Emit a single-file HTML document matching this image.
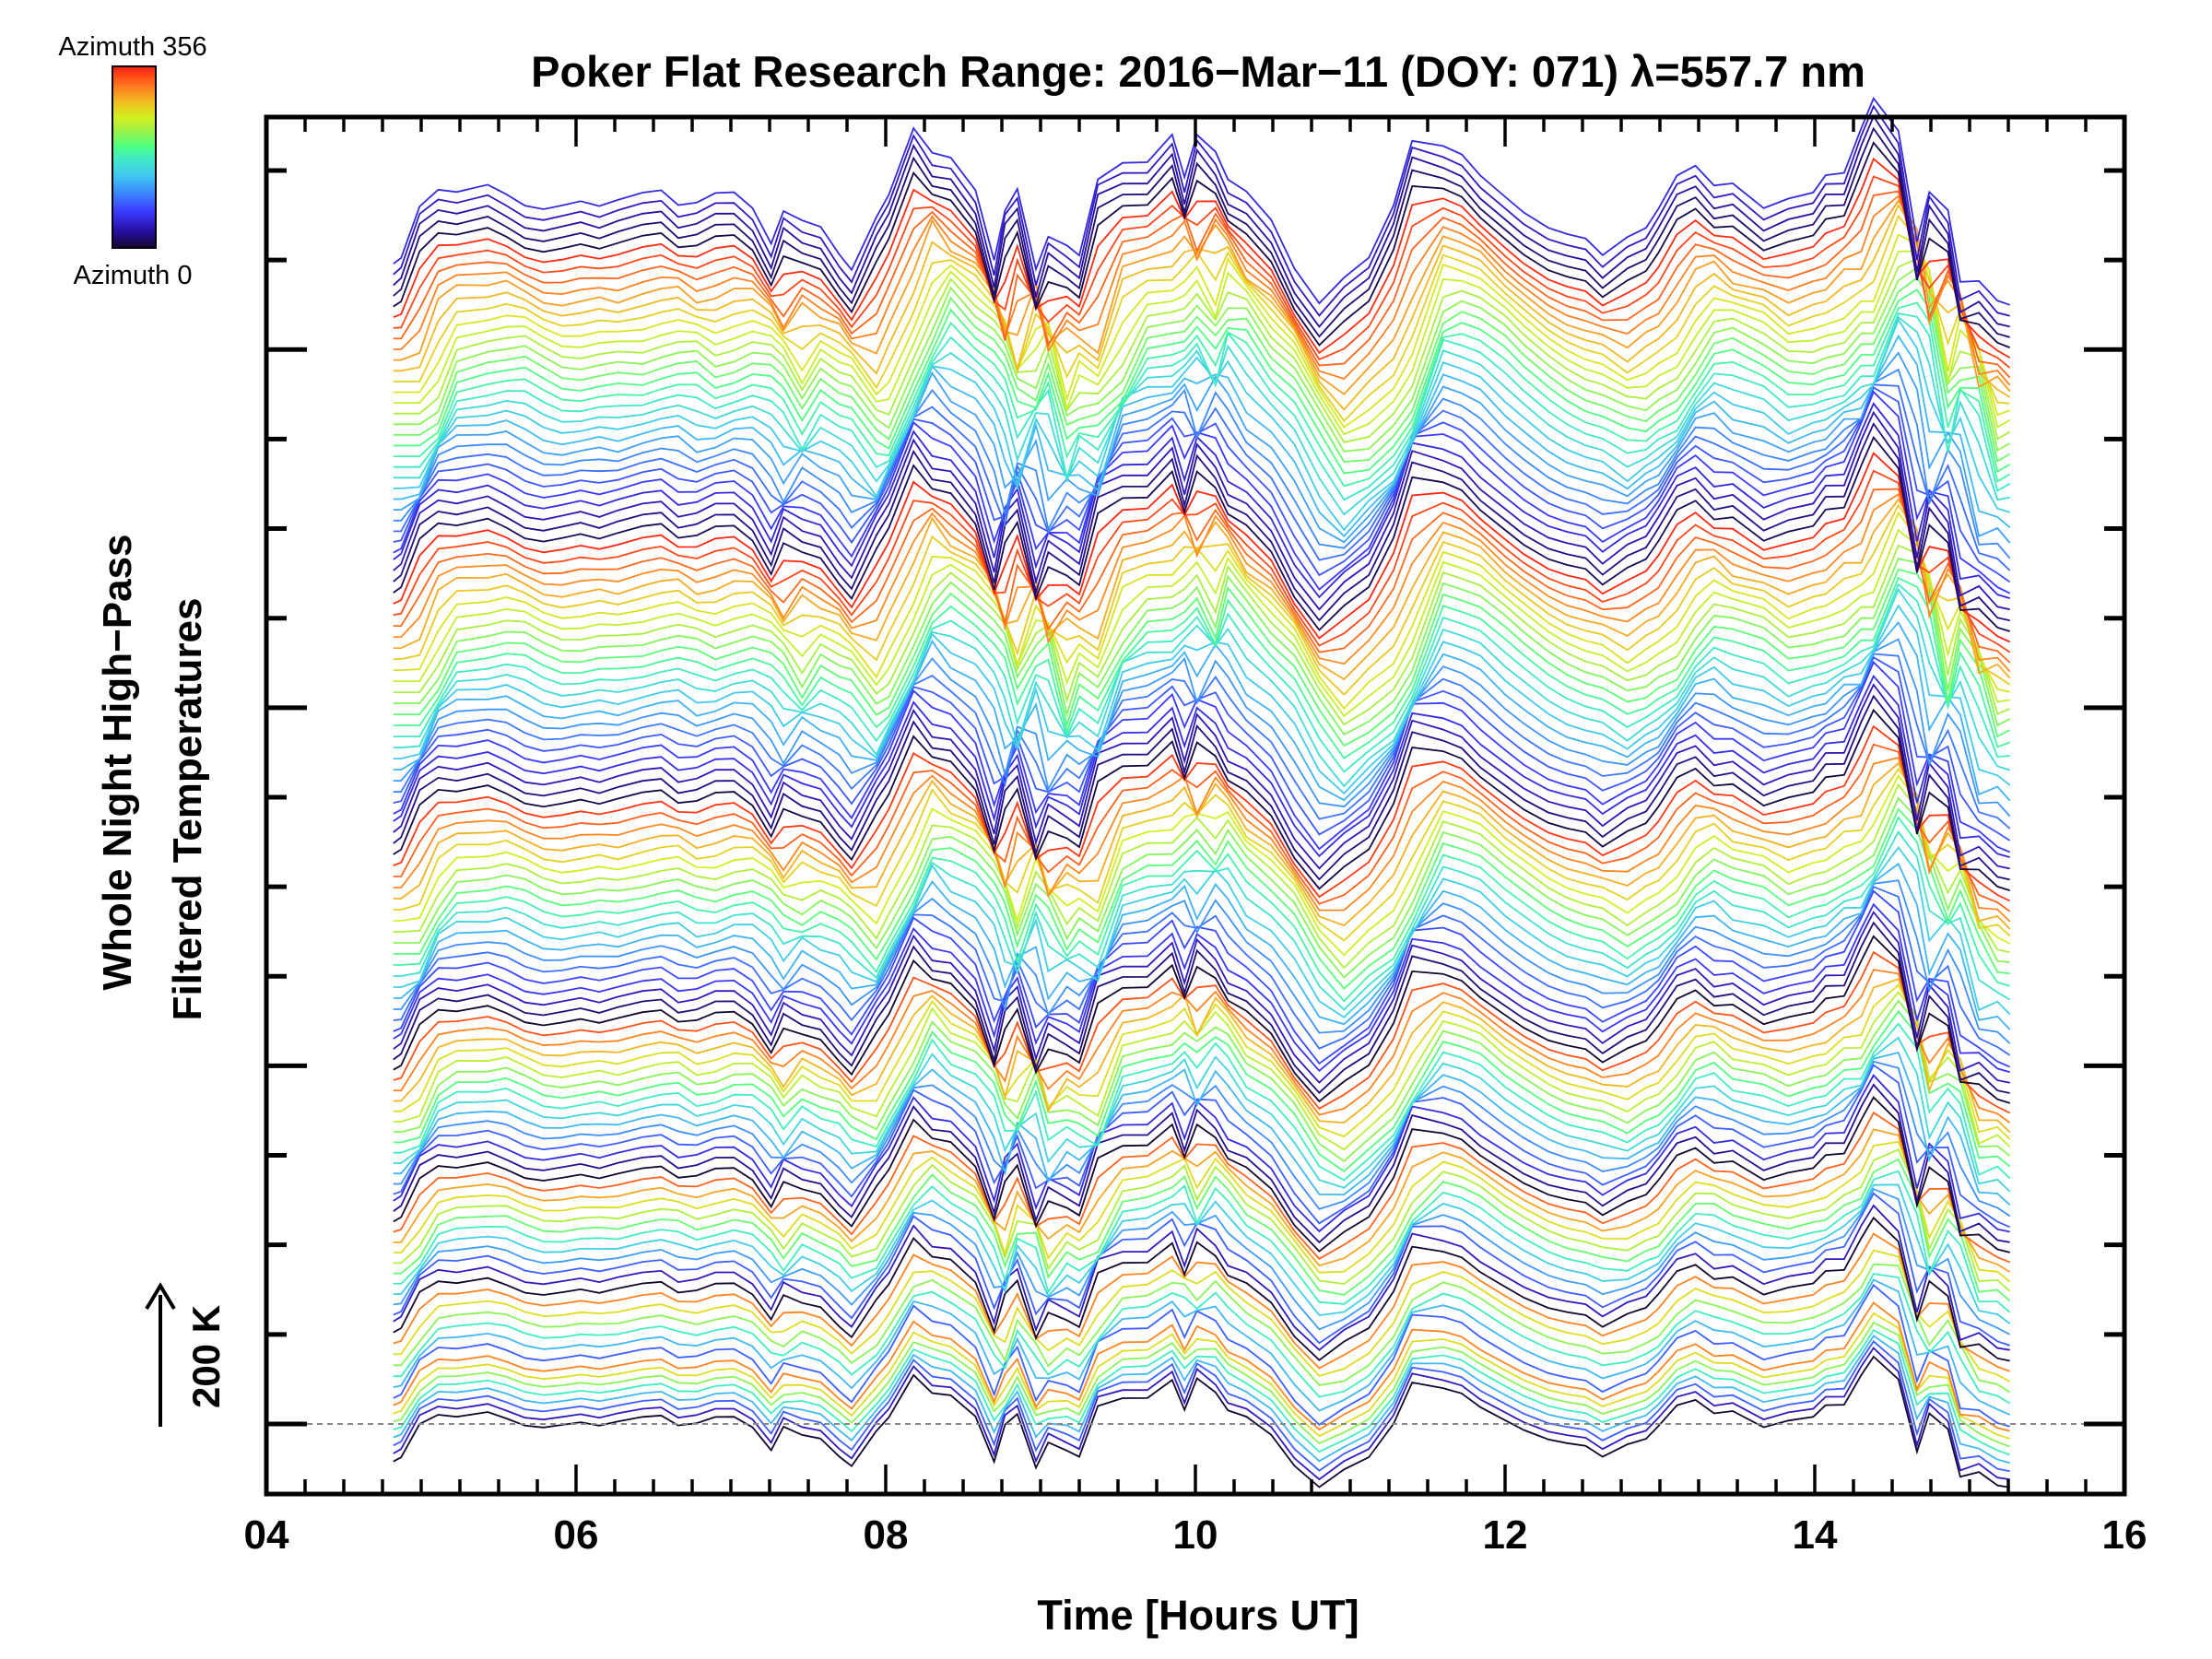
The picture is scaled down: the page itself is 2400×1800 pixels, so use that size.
<!DOCTYPE html>
<html><head><meta charset="utf-8"><style>
html,body{margin:0;padding:0;background:#fff}
svg{display:block}
text{font-family:"Liberation Sans",sans-serif;fill:#000}
</style></head><body>
<svg id="chart" width="2400" height="1800" viewBox="0 0 2400 1800" xmlns="http://www.w3.org/2000/svg">
<defs>
<linearGradient id="cbar" x1="0" y1="1" x2="0" y2="0">
<stop offset="0" stop-color="#14042e"/><stop offset="0.1" stop-color="#2a10a8"/><stop offset="0.2" stop-color="#3a3aff"/><stop offset="0.3" stop-color="#3c86ff"/><stop offset="0.4" stop-color="#40c8f0"/><stop offset="0.5" stop-color="#40eec0"/><stop offset="0.56" stop-color="#50ff80"/><stop offset="0.66" stop-color="#a8f040"/><stop offset="0.72" stop-color="#d2f020"/><stop offset="0.8" stop-color="#f0c020"/><stop offset="0.88" stop-color="#ff8020"/><stop offset="1" stop-color="#ff2010"/>
</linearGradient>
</defs>
<text x="1300" y="94" font-size="47" font-weight="bold" text-anchor="middle">Poker Flat Research Range: 2016−Mar−11 (DOY: 071) λ=557.7 nm</text>
<g>
<text x="144" y="60" font-size="29" text-anchor="middle">Azimuth 356</text>
<rect x="122" y="72" width="47" height="197" fill="url(#cbar)" stroke="#000" stroke-width="2"/>
<text x="144" y="308" font-size="29" text-anchor="middle">Azimuth 0</text>
</g>
<g id="lines"></g>
<line x1="289" y1="1545" x2="2303" y2="1545" stroke="#888" stroke-width="2" stroke-dasharray="6,5"/>
<g id="axes"></g>
<rect x="289" y="127" width="2016" height="1494" fill="none" stroke="#000" stroke-width="5"/>
<text transform="translate(142,827) rotate(-90)" font-size="44" text-anchor="middle" font-weight="bold">Whole Night High−Pass</text>
<text transform="translate(218,878) rotate(-90)" font-size="44" text-anchor="middle" font-weight="bold">Filtered Temperatures</text>
<g>
<line x1="174" y1="1548" x2="174" y2="1405" stroke="#000" stroke-width="4"/>
<path d="M159,1420 L174,1395 L189,1420" fill="none" stroke="#000" stroke-width="4"/>
</g>
<text transform="translate(238,1472) rotate(-90)" font-size="42" text-anchor="middle" font-weight="bold">200 K</text>
<text x="1300" y="1768" font-size="45" text-anchor="middle" font-weight="bold">Time [Hours UT]</text>
</svg>
<script>
var baseTimes=[4.82,4.87,4.99,5.11,5.23,5.43,5.55,5.67,5.79,5.91,6.03,6.15,6.27,6.43,6.55,6.66,6.78,6.90,7.02,7.14,7.26,7.34,7.46,7.58,7.70,7.78,7.94,8.02,8.18,8.30,8.42,8.58,8.70,8.77,8.85,8.97,9.05,9.17,9.25,9.37,9.53,9.69,9.85,9.93,10.01,10.13,10.21,10.33,10.49,10.64,10.80,10.96,11.12,11.28,11.40,11.60,11.72,11.84,12.00,12.12,12.28,12.40,12.52,12.63,12.79,12.91,12.99,13.11,13.23,13.35,13.47,13.67,13.83,13.99,14.07,14.19,14.30,14.38,14.54,14.66,14.74,14.86,14.94,15.06,15.18,15.26];
var baseTemps=[-84,-74,2,21,16,27,12,-4,-8,-2,4,-4,6,16,19,-4,2,16,16,-8,-60,-4,-25,-33,-74,-95,-14,16,111,68,64,16,-87,2,23,-101,-39,-60,-74,43,58,58,99,29,105,70,29,16,-25,-95,-142,-101,-74,2,95,80,68,37,8,-14,-35,-43,-49,-74,-45,-33,-4,43,54,23,29,-8,8,16,43,43,111,152,99,-66,27,-12,-122,-107,-138,-142];
var ringSizes=[8,8,12,16,20,24,28];
var ringAmp=[1.0,1.1,1.2,1.3,1.4,1.5,1.6];
var ringShift=[0.03,0.06,0.09,0.13,0.17,0.2,0.23];
var ringStartAz=[0,0.25,0.25,0.25,0.22,0.2,0.2];
var xTicks=["04","06","08","10","12","14","16"];
var ringTopPx=[1484,1389,1254,1074,834,546,221];
var NS="http://www.w3.org/2000/svg";
var X0=289,PXH=(2305-289)/12,Y0=1545,PXK=97/200;
function xs(h){return X0+(h-4)*PXH;}
function yk(k){return k*PXK;}
function baseAt(t){
 var n=baseTimes.length;
 if(t<=baseTimes[0])return baseTemps[0];
 if(t>=baseTimes[n-1])return baseTemps[n-1];
 for(var i=1;i<n;i++){if(t<=baseTimes[i]){var a=(t-baseTimes[i-1])/(baseTimes[i]-baseTimes[i-1]);return baseTemps[i-1]+a*(baseTemps[i]-baseTemps[i-1]);}}
}
var stops=[[0,20,4,46],[0.1,42,16,168],[0.2,58,58,255],[0.3,60,134,255],[0.4,64,200,240],[0.5,64,238,192],[0.56,80,255,128],[0.66,168,240,64],[0.72,210,240,32],[0.8,240,192,32],[0.88,255,128,32],[1,255,32,16]];
function col(f){
 for(var i=1;i<stops.length;i++){if(f<=stops[i][0]){var a=(f-stops[i-1][0])/(stops[i][0]-stops[i-1][0]);
 var r=Math.round(stops[i-1][1]+a*(stops[i][1]-stops[i-1][1])),g=Math.round(stops[i-1][2]+a*(stops[i][2]-stops[i-1][2])),b=Math.round(stops[i-1][3]+a*(stops[i][3]-stops[i-1][3]));return "rgb("+r+","+g+","+b+")";}}
 return "rgb(255,32,16)";
}
var lg=document.getElementById("lines");
var prevTop=Y0+ (ringTopPx[0]-Y0)/(ringSizes[0]-1);
for(var r=0;r<ringSizes.length;r++){
 var n=ringSizes[r];
 var lo=(r===0)?Y0:prevTop+(ringTopPx[r]-prevTop)/n;
 var step=(n>1)?(ringTopPx[r]-lo)/(n-1):0;
 for(var i=0;i<n;i++){
  var f=(ringStartAz[r]+i/n)%1;
  var level=lo+step*i;
  var dt=-ringShift[r]*(1+Math.cos(2*Math.PI*(f-0.6)))/2;
  var pts=[];
  for(var k=0;k<baseTimes.length;k++){
   var t=baseTimes[k];
   pts.push(xs(t).toFixed(1)+","+(level-ringAmp[r]*yk(baseAt(t+dt))).toFixed(1));
  }
  var pl=document.createElementNS(NS,"polyline");
  pl.setAttribute("points",pts.join(" "));
  pl.setAttribute("fill","none");
  pl.setAttribute("stroke",col(f));
  pl.setAttribute("stroke-width","1.8");
  
  
  lg.appendChild(pl);
 }
 prevTop=ringTopPx[r];
}
var ax=document.getElementById("axes");
function ln(x1,y1,x2,y2,w){var l=document.createElementNS(NS,"line");l.setAttribute("x1",x1);l.setAttribute("y1",y1);l.setAttribute("x2",x2);l.setAttribute("y2",y2);l.setAttribute("stroke","#000");l.setAttribute("stroke-width",w);
 
 
 ax.appendChild(l);}
for(var q=0;q<=48;q++){
 var h=4+q*0.25,x=xs(h),big=(q%8===0);
 var L=big?32:16;
 ln(x,1621,x,1621-L,3.5);ln(x,127,x,127+L,3.5);
}
for(var j=0;j<15;j++){
 var y=185+97.14*j,big=(j%4===2);
 var L=big?44:22;
 ln(289,y,289+L,y,5);ln(2305,y,2305-L,y,5);
}
for(var m=0;m<xTicks.length;m++){
 var tx=document.createElementNS(NS,"text");
 tx.setAttribute("x",xs(4+2*m));tx.setAttribute("y",1680);tx.setAttribute("font-size","44");tx.setAttribute("text-anchor","middle");tx.setAttribute("font-weight","bold");
 tx.textContent=xTicks[m];
 
 
 ax.appendChild(tx);
}
</script>
</body></html>
